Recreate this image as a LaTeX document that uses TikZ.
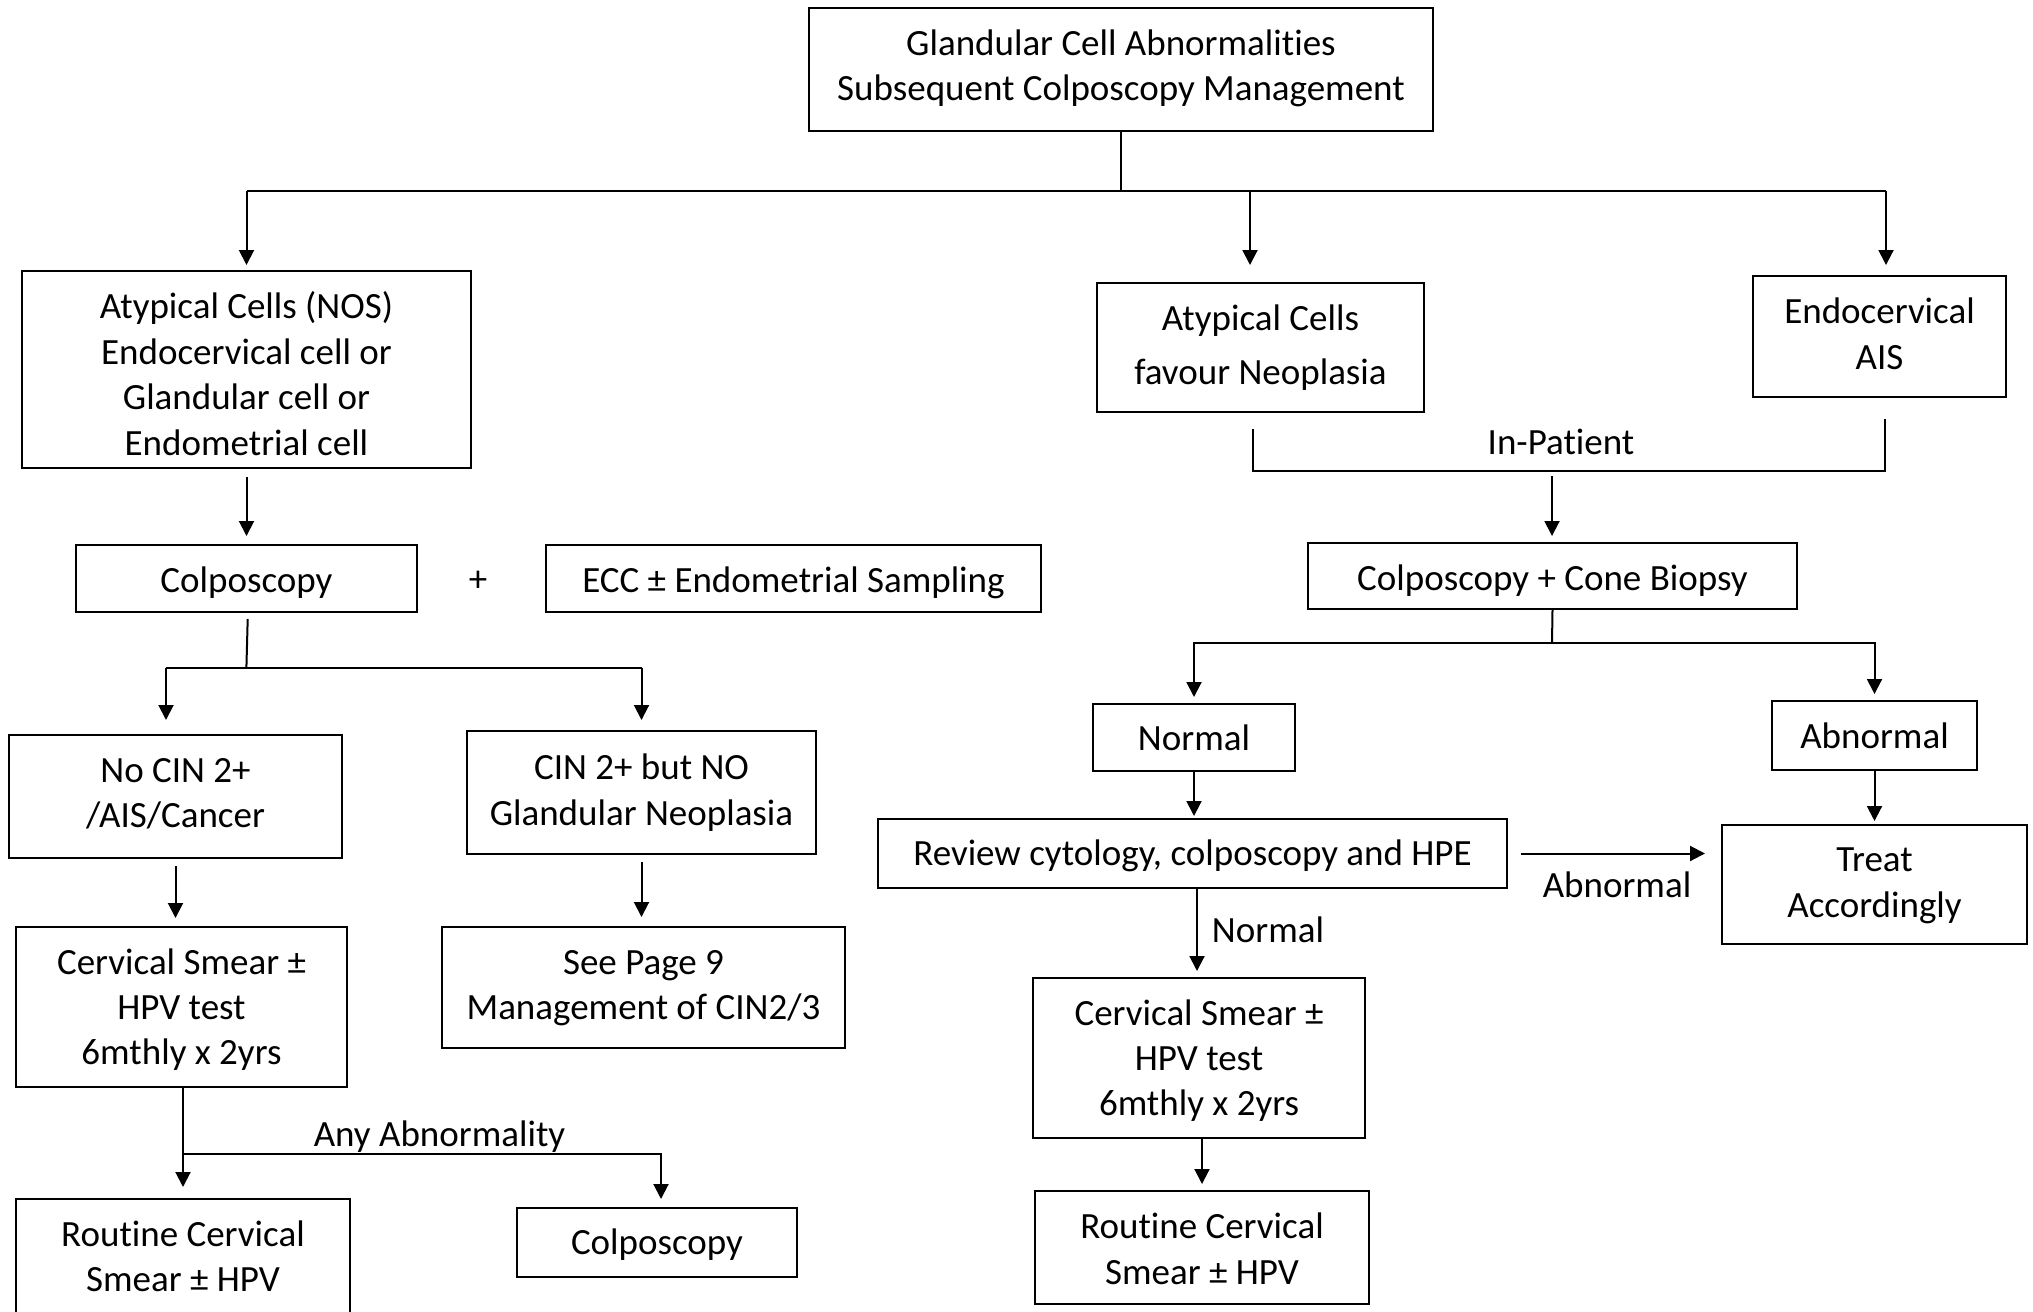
\documentclass[tikz,border=0pt]{standalone}
\usepackage{fontspec}
\setmainfont{Carlito}[Ligatures=NoCommon]
\usetikzlibrary{arrows.meta,calc}
\newcommand\tbox[6]{%
  \node[box, minimum width=#2, minimum height=#3] (#1) at (#4) {};
  \node[txt] (#1t) at ([yshift=#5pt]#1.center) {#6};}
\begin{document}
\begin{tikzpicture}[x=1pt,y=-1pt,
  box/.style={draw, line width=2pt, inner sep=0pt},
  txt/.style={inner sep=0pt, align=center, font=\fontsize{37}{45.4}\selectfont},
  lbl/.style={inner sep=0pt, font=\fontsize{37}{45.4}\selectfont},
  conn/.style={line width=2pt},
  arr/.style={conn, -{Triangle[length=15pt,width=15pt]}}]
\useasboundingbox (0,0) rectangle (2033,1311);
\clip (0,0) rectangle (2033,1311);
\fill[white] (0,0) rectangle (2033,1311);
% nodes
\tbox{title}{624}{123}{1121,69.5}{1.3}{Glandular Cell Abnormalities\\Subsequent Colposcopy Management}
\tbox{nos}{449}{197}{246.5,369.5}{-4}{Atypical Cells (NOS)\\Endocervical cell or\\Glandular cell or\\Endometrial cell}
\tbox{neo}{327}{129}{1260.5,347.5}{0}{Atypical Cells\\[8.6pt]favour Neoplasia}
\tbox{ais}{253}{121}{1879.5,336.5}{2.6}{Endocervical\\AIS}
\tbox{colpL}{341}{67}{246.5,578.5}{-4}{Colposcopy}
\node[lbl] (plus) at (478,581) {+};
\tbox{ecc}{495}{67}{793.5,578.5}{-4}{ECC \textpm{} Endometrial Sampling}
\tbox{cone}{489}{66}{1552.5,576}{-5}{Colposcopy + Cone Biopsy}
\tbox{nocin}{333}{123}{175.5,796.5}{2.6}{No CIN 2+\\/AIS/Cancer}
\tbox{cin}{349}{123}{641.5,792.5}{0}{CIN 2+ but NO\\Glandular Neoplasia}
\tbox{normal}{202}{67}{1194,737.5}{0}{Normal}
\tbox{abn}{205}{69}{1874.5,735.5}{0}{Abnormal}
\tbox{review}{629}{69}{1192.5,853.5}{-2.6}{Review cytology, colposcopy and HPE}
\tbox{treat}{305}{119}{1874.5,884.5}{-1.3}{Treat\\Accordingly}
\tbox{smearL}{331}{160}{181.5,1007}{-2.6}{Cervical Smear \textpm\\HPV test\\6mthly x 2yrs}
\tbox{page9}{403}{121}{643.5,987.5}{-0.6}{See Page 9\\Management of CIN2/3}
\tbox{smearR}{332}{160}{1199,1058}{-2.6}{Cervical Smear \textpm\\HPV test\\6mthly x 2yrs}
\tbox{routL}{334}{130}{183,1264}{7.5}{Routine Cervical\\Smear \textpm{} HPV}
\tbox{colpB}{280}{69}{657,1242.5}{-2.6}{Colposcopy}
\tbox{routR}{334}{113}{1202,1247.5}{-1.3}{Routine Cervical\\Smear \textpm{} HPV}
% top bus
\coordinate (bus) at (1121,191);
\draw[conn] (title.south) -- (bus);
\draw[conn] (nos.north |- bus) -- ([xshift=6.5pt]ais.north |- bus);
\draw[arr, shorten >=5pt] (nos.north |- bus) -- (nos.north);
\draw[arr, shorten >=17pt] ([xshift=-10.5pt]neo.north |- bus) -- ([xshift=-10.5pt]neo.north);
\draw[arr, shorten >=10pt] ([xshift=6.5pt]ais.north |- bus) -- ([xshift=6.5pt]ais.north);
% in-patient
\coordinate (ipL) at ([xshift=-8pt,yshift=-16pt]neo.south);
\coordinate (ipR) at ([xshift=5.5pt,yshift=-20.5pt]ais.south);
\coordinate (ipB) at (1552,471);
\draw[conn] (ipL) |- (ipB) -| (ipR);
\node[lbl] (inpat) at (1561,442) {In-Patient};
\draw[arr, shorten <=5pt, shorten >=6pt] (ipB) -- (ipB |- cone.north);
% cone split
\coordinate (cb) at (1552,643);
\draw[conn] (cone.south) -- (cb);
\draw[arr, shorten >=6pt] (cb) -| (normal.north);
\draw[arr, shorten >=6pt] (cb) -| (abn.north);
\draw[arr, shorten >=2pt] (normal.south) -- (normal.south |- review.north);
\draw[arr, shorten >=3pt] (abn.south) -- (abn.south |- treat.north);
\draw[arr, shorten <=13pt, shorten >=16pt] (review.east) -- (review.east -| treat.west);
\node[lbl] (abnlbl) at (1617,884.6) {Abnormal};
\draw[arr, shorten >=6pt] ([xshift=4.5pt]review.south) -- ([xshift=4.5pt]review.south |- smearR.north);
\node[lbl] (normlbl) at (1268,930) {Normal};
\draw[arr, shorten >=6pt] (routR.north |- smearR.south) -- (routR.north);
% left side
\draw[arr, shorten <=8pt, shorten >=8pt] (nos.south) -- (colpL.north);
\coordinate (cl) at (246.4,668);
\draw[conn] ([xshift=1.2pt,yshift=-6pt]colpL.south) -- (cl);
\draw[conn] ([xshift=-9.5pt]nocin.north |- cl) -- (cin.north |- cl);
\draw[arr, shorten >=14pt] ([xshift=-9.5pt]nocin.north |- cl) -- ([xshift=-9.5pt]nocin.north);
\draw[arr, shorten >=10pt] (cin.north |- cl) -- (cin.north);
\draw[arr, shorten <=7pt, shorten >=8pt] (nocin.south) -- (nocin.south |- smearL.north);
\draw[arr, shorten <=7pt, shorten >=9pt] (cin.south) -- (cin.south |- page9.north);
\coordinate (aa) at (183,1154);
\draw[arr, shorten >=11pt] (smearL.south -| aa) -- (aa |- routL.north);
\draw[arr, shorten >=8pt] (aa) -| ([xshift=4pt]colpB.north);
\node[lbl] (anyab) at (439.5,1137) {Any Abnormality};
\end{tikzpicture}
\end{document}
